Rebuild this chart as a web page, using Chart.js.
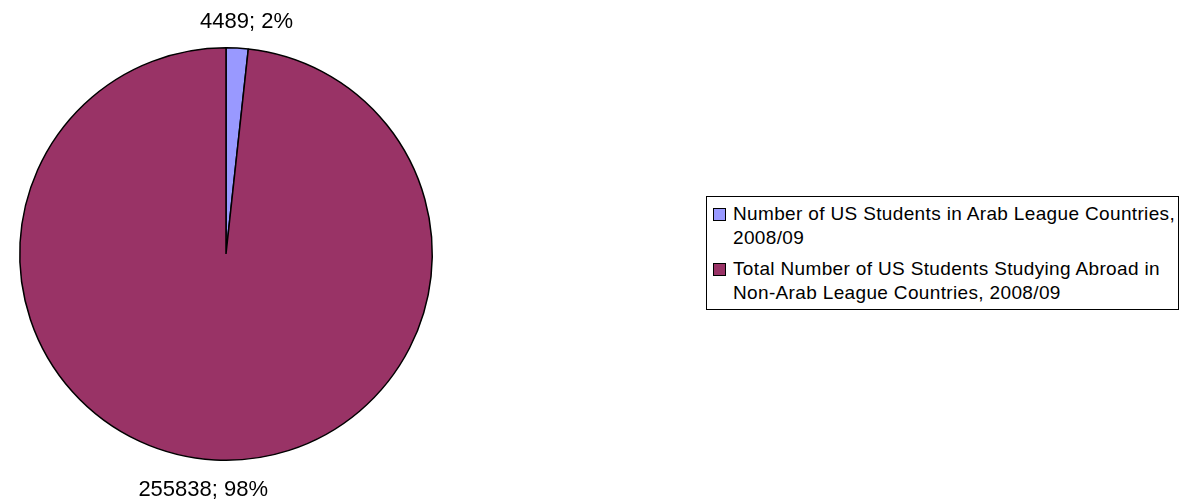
<!DOCTYPE html>
<html>
<head>
<meta charset="utf-8">
<script src="https://cdn.jsdelivr.net/npm/chart.js@4/dist/chart.umd.min.js"></script>
<style>
  html, body { margin: 0; padding: 0; background: #fff; }
  #wrap { position: relative; width: 1182px; height: 502px; }
  #c { position: absolute; left: 0; top: 0; }
  #legend {
    position: absolute; left: 706px; top: 196px; width: 473px; height: 114px;
    border: 1px solid #000; box-sizing: border-box; background: #fff;
    font-family: "Liberation Sans", Arial, sans-serif; font-size: 19px; letter-spacing: 0.35px;
    line-height: 24px; color: #000; white-space: nowrap;
  }
  .item { position: absolute; left: 26px; right: 2px; }
  .sw { position: absolute; left: -20px; top: 6px; width: 11px; height: 11px; border: 1px solid #000; }
</style>
</head>
<body>
<div id="wrap">
  <canvas id="c" width="1182" height="502"></canvas>
  <div id="legend"></div>
</div>
<script>
const categories = [
  "Number of US Students in Arab League Countries, 2008/09",
  "Total Number of US Students Studying Abroad in Non-Arab League Countries, 2008/09"
];
const legendLines = [
  ["Number of US Students in Arab League Countries,", "2008/09"],
  ["Total Number of US Students Studying Abroad in", "Non-Arab League Countries, 2008/09"]
];
const values = [4489, 255838];
const colors = ["#9999FF", "#993366"];

// HTML legend
const lg = document.getElementById('legend');
const tops = [5, 60];
legendLines.forEach((lines, i) => {
  const d = document.createElement('div');
  d.className = 'item';
  d.style.top = tops[i] + 'px';
  const sw = document.createElement('span');
  sw.className = 'sw';
  sw.style.background = colors[i];
  d.appendChild(sw);
  lines.forEach((t, j) => {
    if (j) d.appendChild(document.createElement('br'));
    d.appendChild(document.createTextNode(t));
  });
  lg.appendChild(d);
});

const labelPlugin = {
  id: 'sliceLabels',
  afterDatasetsDraw(chart) {
    const ctx = chart.ctx;
    const meta = chart.getDatasetMeta(0);
    const total = values.reduce((a, b) => a + b, 0);
    const dx = [8, -10];
    const dist = [232, 236];
    ctx.save();
    ctx.font = '22px "Liberation Sans", Arial, sans-serif';
    ctx.fillStyle = '#000';
    ctx.textAlign = 'center';
    ctx.textBaseline = 'middle';
    meta.data.forEach((arc, i) => {
      const mid = (arc.startAngle + arc.endAngle) / 2;
      const x = arc.x + Math.cos(mid) * dist[i] + dx[i];
      const y = arc.y + Math.sin(mid) * dist[i];
      const pct = Math.round(values[i] / total * 100);
      ctx.fillText(values[i] + '; ' + pct + '%', x, y);
    });
    ctx.restore();
  }
};

new Chart(document.getElementById('c'), {
  type: 'pie',
  data: {
    labels: categories,
    datasets: [{
      data: values,
      backgroundColor: colors,
      borderColor: '#000',
      borderWidth: 1.5
    }]
  },
  options: {
    responsive: false,
    animation: false,
    layout: { padding: { left: 19, top: 47, bottom: 41, right: 749 } },
    plugins: { legend: { display: false }, tooltip: { enabled: false } }
  },
  plugins: [labelPlugin]
});
</script>
</body>
</html>
